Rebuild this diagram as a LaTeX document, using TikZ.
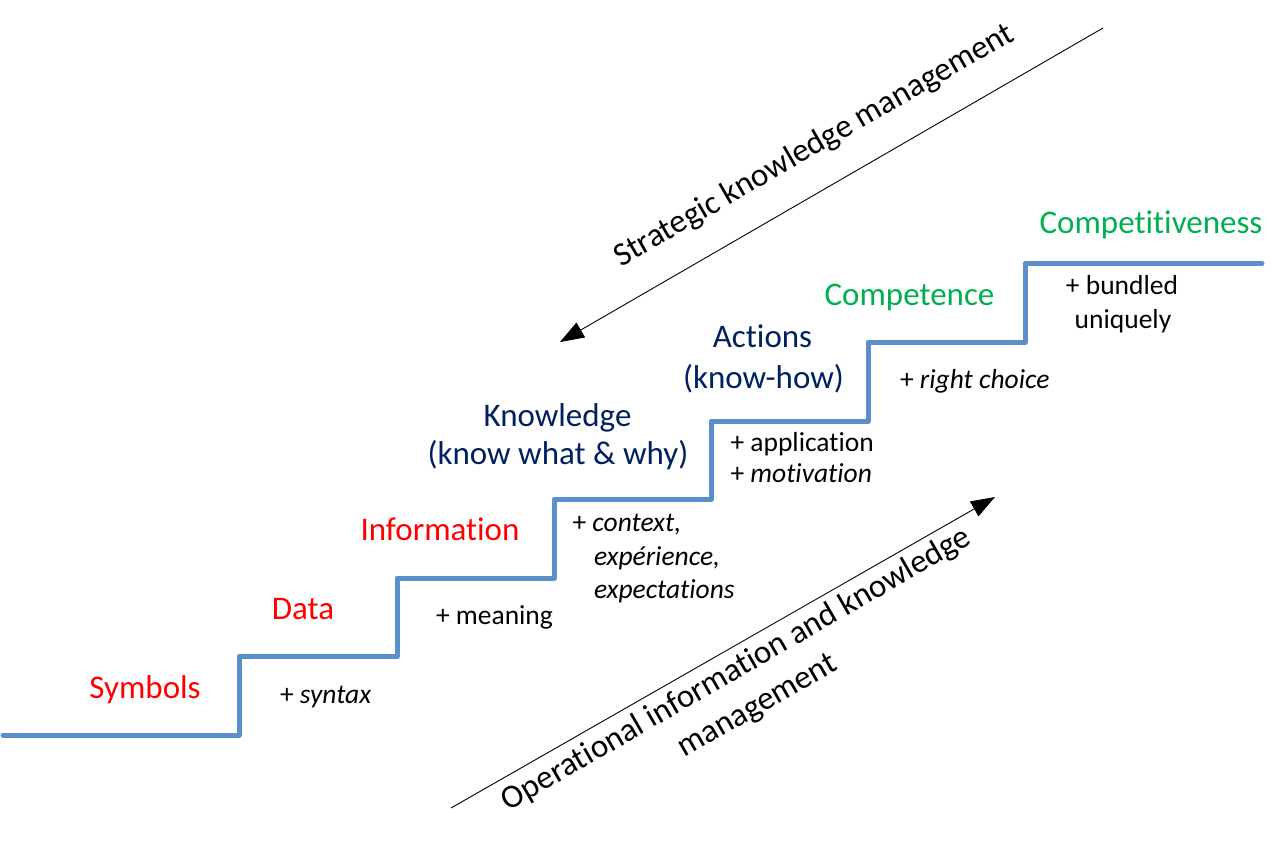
\documentclass[tikz,border=0pt]{standalone}
\usepackage{fontspec}
\setmainfont{Carlito}[Ligatures=NoCommon]
\usetikzlibrary{arrows.meta}
\definecolor{stairblue}{RGB}{91,143,201}
\definecolor{lvlred}{RGB}{255,0,0}
\definecolor{lvlnavy}{RGB}{0,32,96}
\definecolor{lvlgreen}{RGB}{0,176,80}
\begin{document}
\begin{tikzpicture}[x=1pt,y=-1pt,
  every node/.style={inner sep=0pt, outer sep=0pt},
  big/.style={font=\fontsize{33}{40}\selectfont, anchor=base},
  small/.style={font=\fontsize{27.5}{33}\selectfont, anchor=base west},
  smallc/.style={font=\fontsize{27.5}{33}\selectfont, anchor=base},
  rot/.style={font=\fontsize{33}{40}\selectfont, anchor=base, rotate=30},
  stairline/.style={draw=stairblue, line width=5pt, line cap=round, line join=round},
  mgmtarrow/.style={draw=black, line width=0.9pt, -{Triangle[length=24pt,width=17pt]}}
]
\useasboundingbox (0,0) rectangle (1281,848);

% staircase
\draw[stairline] (3,735) -- (239,735) -- (239,656.5) -- (397,656.5) -- (397,578)
  -- (554,578) -- (554,499.5) -- (711,499.5) -- (711,421) -- (868,421)
  -- (868,342) -- (1025,342) -- (1025,263.5) -- (1262,263.5);

% level labels
\node[big, text=lvlred] (symbols) at (145,698) {Symbols};
\node[big, text=lvlred] (data) at (303,619) {Data};
\node[big, text=lvlred] (information) at (440,540) {Information};
\node[big, text=lvlnavy] (knowledge) at (557.5,426) {Knowledge};
\node[big, text=lvlnavy] (knowledge2) at (558,464) {(know what \& why)};
\node[big, text=lvlnavy] (actions) at (762.5,347) {Actions};
\node[big, text=lvlnavy] (actions2) at (763.5,388) {(know-how)};
\node[big, text=lvlgreen] (competence) at (909.5,305) {Competence};
\node[big, text=lvlgreen] (competitiveness) at (1151,233) {Competitiveness};

% additions
\node[small] (syntax) at (280,703) {+ \textit{syntax}};
\node[small] (meaning) at (436,624) {+ meaning};
\node[small] (context) at (572.5,531.5) {+ \textit{context,}};
\node[small] (experience) at (594,565.5) {\textit{expérience,}};
\node[small] (expectations) at (594,598) {\textit{expectations}};
\node[small] (application) at (730.5,451.5) {+ application};
\node[small] (motivation) at (730.5,482.5) {+ \textit{motivation}};
\node[small] (choice) at (900,388) {+ \textit{right choice}};
\node[smallc] (bundled) at (1122,294) {+ bundled};
\node[smallc] (uniquely) at (1123,328) {uniquely};

% management arrows
\coordinate (stratTail) at (1103,28);
\coordinate (stratHead) at (560,342);
\draw[mgmtarrow] (stratTail) -- (stratHead);
\coordinate (operTail) at (451,808);
\coordinate (operHead) at (995,497);
\draw[mgmtarrow] (operTail) -- (operHead);

\node[rot] (strategic) at (818.5,153.5) {Strategic knowledge management};
\node[rot] (operational) at (741,677) {Operational information and knowledge};
\node[rot] (operational2) at (762,713.5) {management};
\end{tikzpicture}
\end{document}
